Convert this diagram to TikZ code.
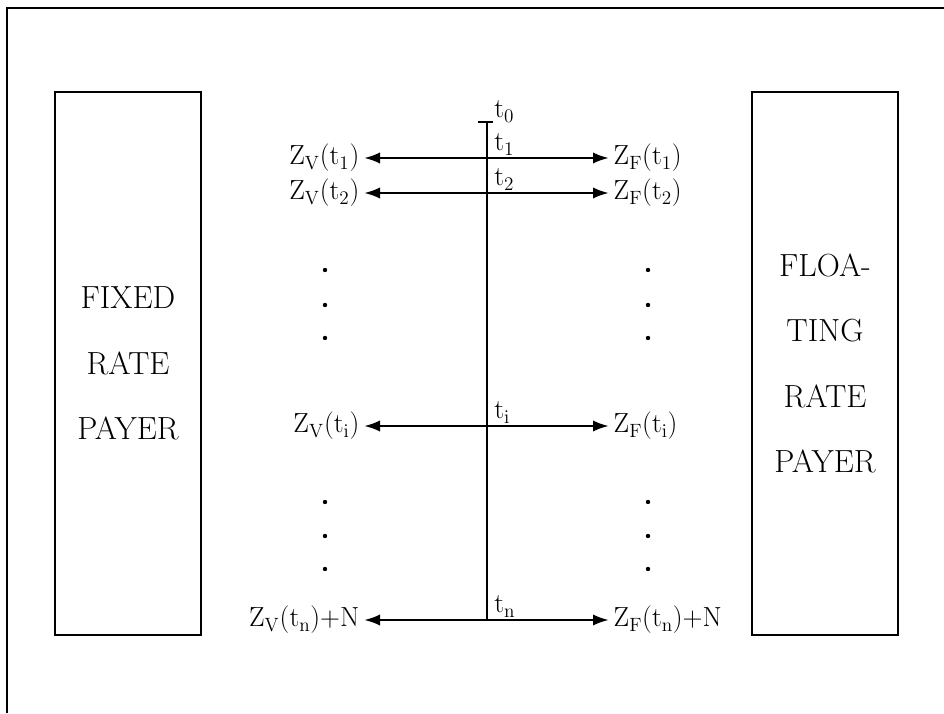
\documentclass[tikz,border=0pt]{standalone}
\usepackage{tikz}
\usetikzlibrary{arrows.meta,calc,positioning}
\tikzset{
  payerbox/.style={draw,line width=1.8pt,minimum width=109.5pt,minimum height=407pt,
    align=center,font=\fontsize{24}{49}\selectfont},
  flow/.style={{Latex[length=12pt,width=8.5pt]}-{Latex[length=12pt,width=8.5pt]},line width=1.9pt},
  lbl/.style={font=\fontsize{20.5}{24}\selectfont},
}

\begin{document}
\begin{tikzpicture}[x=0.75pt,y=0.75pt]
        \useasboundingbox (0,0) rectangle (944,713);
        \draw[line width=1.8pt] (7,0) -- (7,705) -- (944,705);
        \node[payerbox] (fixed) at (128,349.5) {FIXED\\RATE\\PAYER};
        \node[payerbox] (float) at (825,349.5) {FLOA-\\TING\\RATE\\PAYER};
        \coordinate (top) at (487,591);
        \coordinate (bot) at (487,93);
        \draw[line width=1.9pt] (top) -- (bot);
        \draw[line width=1.9pt] ($(top)+(-9,0)$) -- ($(top)+(6,0)$);
        \node[lbl,anchor=base west,inner sep=0pt] (t0) at (494,595) {$\mathrm{t_0}$};
        \foreach \y/\s/\e in {555/1/,520/2/,287/i/,93/n/{+}N}{
          \node[lbl,anchor=east] (zv\s) at (364,\y) {$\mathrm{Z_V(t_\s)\e}$};
          \node[lbl,anchor=west] (zf\s) at (609,\y) {$\mathrm{Z_F(t_\s)\e}$};
          \draw[flow] (zv\s) -- (zf\s);
          \node[lbl,anchor=base west,inner sep=0pt] (t\s) at (494,\y+7) {$\mathrm{t_\s}$};
        }
        \foreach \y in {443,408,375,211,177,144}{
          \fill (325,\y) circle (2.2);
          \fill (648,\y) circle (2.2);
        }
      \end{tikzpicture}
\end{document}
